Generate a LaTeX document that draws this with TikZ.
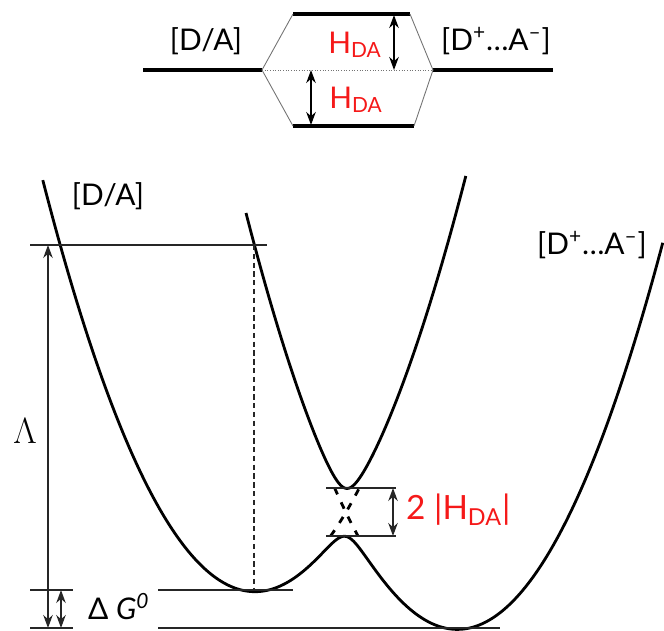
\documentclass[tikz,border=0pt]{standalone}
\usepackage{fontspec}
\setmainfont{Lato}
\usetikzlibrary{arrows.meta}
\definecolor{hred}{RGB}{245,25,25}

\begin{document}
\begin{tikzpicture}[x=2cm, y=-2cm, >={Stealth[length=2.6mm,width=1.9mm]},
    level/.style={line width=2.3pt},
    curve/.style={line width=1.6pt, line join=round},
    guide/.style={line width=0.8pt, black!85},
    gline/.style={line width=0.5pt, black!55},
    cross/.style={line width=1.6pt, dash pattern=on 4pt off 5pt},
    lab/.style={font=\fontsize{17}{20}\selectfont},
    redlab/.style={lab, text=hred},
    declare function={
      dA(\x)=5.90-0.92*(\x-2.54)*(\x-2.54);
      dD(\x)=6.28-0.92*(\x-4.58)*(\x-4.58);
      mid(\x)=(dA(\x)+dD(\x))/2;
      split(\x)=sqrt((dA(\x)-dD(\x))*(dA(\x)-dD(\x))/4+0.0576);
    }]
    \useasboundingbox (0,0) rectangle (6.64,6.30);

    % Top: level splitting
    \coordinate (la) at (1.43,0.70); \coordinate (lb) at (2.62,0.70);
    \coordinate (ra) at (4.33,0.70); \coordinate (rb) at (5.53,0.70);
    \coordinate (ua) at (2.93,0.14); \coordinate (ub) at (4.10,0.14);
    \coordinate (da) at (2.93,1.26); \coordinate (db) at (4.14,1.26);
    \draw[level] (la) -- (lb);
    \draw[level] (ra) -- (rb);
    \draw[level] (ua) -- (ub);
    \draw[level] (da) -- (db);
    \draw[gline] (lb) -- (ua) (lb) -- (da) (ra) -- (ub) (ra) -- (db);
    \draw[gline, densely dotted] (lb) -- (ra);
    \draw[<->, line width=1.1pt] (3.94,0.15) -- (3.94,0.70);
    \draw[<->, line width=1.1pt] (3.11,0.70) -- (3.11,1.25);
    \node[redlab] (hup) at (3.55,0.45) {H\textsubscript{DA}};
    \node[redlab] (hdn) at (3.56,1.00) {H\textsubscript{DA}};
    \node[lab] (tda) at (2.06,0.41) {[D/A]};
    \node[lab] (tdp) at (4.96,0.41) {[D\textsuperscript{+}…A\textsuperscript{–}]};

    % Bottom: free energy curves
    \draw[curve] plot[domain=0.428:6.63, samples=240] (\x, {mid(\x)+split(\x)});
    \draw[curve] plot[domain=2.46:4.66, samples=160] (\x, {mid(\x)-split(\x)});
    % Diabatic crossing (dashed)
    \draw[cross] plot[domain=3.306:3.593, samples=12] (\x, {dA(\x)});
    \draw[cross] plot[domain=3.346:3.58, samples=12] (\x, {dD(\x)});

    % Guide lines
    \coordinate (lamT) at (0.48,2.45); \coordinate (lamB) at (0.48,6.28);
    \draw[guide] (0.30,2.45) -- (2.67,2.45);
    \draw[guide] (0.30,5.90) -- (0.73,5.90) (1.58,5.90) -- (2.93,5.90);
    \draw[guide] (0.30,6.28) -- (0.73,6.28) (1.58,6.28) -- (5.00,6.28);
    \draw[guide, densely dashed] (2.54,2.45) -- (2.54,5.90);
    \draw[guide] (3.26,4.88) -- (3.96,4.88) (3.26,5.36) -- (3.96,5.36);

    % Arrows
    \draw[guide, <->] (lamT) -- (lamB);
    \draw[guide, <->] (0.61,5.90) -- (0.61,6.28);
    \draw[guide, <->] (3.93,4.88) -- (3.93,5.36);

    % Labels
    \node[font=\fontsize{20}{24}\selectfont] (lam) at (0.25,4.31) {$\Lambda$};
    \node[lab, anchor=west] (dg) at (0.82,6.07) {Δ \textit{G}\textsuperscript{\textit{0}}};
    \node[redlab, font=\fontsize{19}{22}\selectfont, anchor=west] (gap) at (4.00,5.10) {2 |H\textsubscript{DA}|};
    \node[lab] (bda) at (1.08,1.96) {[D/A]};
    \node[lab] (bdp) at (5.92,2.45) {[D\textsuperscript{+}…A\textsuperscript{–}]};
\end{tikzpicture}
\end{document}
